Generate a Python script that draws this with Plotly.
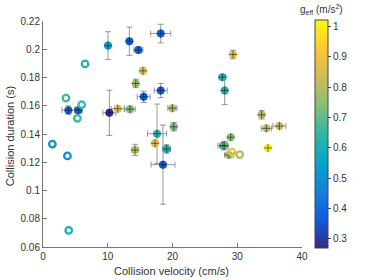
import plotly.graph_objects as go

# ---- data ----
# filled points with error bars
vel = [3.92, 5.46, 10.04, 13.34, 14.73, 18.18, 15.44, 14.32, 15.55, 18.18,
       10.25, 11.54, 13.44, 19.98, 17.61, 20.19, 14.21, 17.30, 19.10, 18.53,
       29.34, 27.70, 28.06, 33.77, 34.50, 36.51, 28.99, 27.80, 28.06, 28.72, 34.75]
dur = [0.1569, 0.1569, 0.2026, 0.2057, 0.1995, 0.2111, 0.1847, 0.1758, 0.1663, 0.1708,
       0.1550, 0.1579, 0.1576, 0.1583, 0.1402, 0.1451, 0.1287, 0.1334, 0.1294, 0.1183,
       0.1963, 0.1802, 0.1708, 0.1536, 0.1440, 0.1456, 0.1377, 0.1317, 0.1317, 0.1252, 0.1301]
vel_err = [1.0, 0.6, 0.3, 0.2, 0.7, 1.55, 0.4, 0.3, 1.0, 1.0,
           1.0, 1.0, 0.8, 0.7, 1.47, 0.3, 0.5, 0.3, 0.6, 1.85,
           0.2, 0.5, 0.2, 0.2, 0.8, 1.0, 0.3, 0.8, 0.3, 0.7, 0.4]
dur_err = [0.003, 0.002, 0.0098, 0.010, 0.002, 0.0066, 0.002, 0.003, 0.004, 0.005,
           0.016, 0.002, 0.002, 0.001, 0.021, 0.003, 0.004, 0.0015, 0.003, 0.028,
           0.003, 0.001, 0.010, 0.003, 0.001, 0.001, 0.001, 0.001, 0.003, 0.001, 0.0008]
geff = [0.37, 0.37, 0.54, 0.37, 0.37, 0.37, 0.87, 0.76, 0.37, 0.37,
        0.28, 0.87, 0.73, 0.80, 0.64, 0.73, 0.80, 0.86, 0.60, 0.37,
        0.88, 0.62, 0.60, 0.80, 0.82, 0.82, 0.74, 0.60, 0.72, 0.76, 1.00]

# open-circle points (no error bars)
vel_open = [3.55, 6.49, 5.98, 5.31, 1.45, 3.77, 3.97, 29.19, 30.38]
dur_open = [0.1654, 0.1896, 0.1607, 0.1511, 0.1329, 0.1245, 0.0717, 0.1271, 0.1254]
geff_open = [0.66, 0.62, 0.66, 0.66, 0.50, 0.50, 0.61, 0.88, 0.80]

cb_ticks = [0.3, 0.4, 0.5, 0.6, 0.7, 0.8, 0.9, 1.0]
x_ticks = [0, 10, 20, 30, 40]
y_ticks = [0.06, 0.08, 0.1, 0.12, 0.14, 0.16, 0.18, 0.2, 0.22]

x_title = "Collision velocity (cm/s)"
y_title = "Collision duration (s)"
cb_title = "g<sub>eff</sub> (m/s<sup>2</sup>)"

parula = [
    [0.0, "#352a87"], [0.125, "#0f5cdd"], [0.25, "#1481d6"], [0.375, "#06a4ca"],
    [0.5, "#2eb7a4"], [0.625, "#87bf77"], [0.75, "#d1bb59"], [0.875, "#fec832"],
    [1.0, "#f9fb0e"],
]

FONT = "Liberation Sans, Arial, sans-serif"
TXT = "#333333"

fig = go.Figure()

fig.add_trace(go.Scatter(
    x=vel, y=dur, mode="markers",
    error_x=dict(type="data", array=vel_err, color="rgba(110,110,110,0.7)", thickness=1, width=3),
    error_y=dict(type="data", array=dur_err, color="rgba(110,110,110,0.7)", thickness=1, width=3),
    marker=dict(size=8, color=geff, coloraxis="coloraxis", opacity=1, line=dict(width=0)),
    showlegend=False, hoverinfo="skip",
))
# thin dark crosshair through the centre of each filled point
fig.add_trace(go.Scatter(
    x=vel, y=dur, mode="markers",
    marker=dict(symbol="cross-thin", size=6, color="rgba(20,20,20,0.7)",
                line=dict(width=0.8, color="rgba(20,20,20,0.7)")),
    showlegend=False, hoverinfo="skip",
))
fig.add_trace(go.Scatter(
    x=vel_open, y=dur_open, mode="markers",
    marker=dict(symbol="circle-open", size=6.5, color=geff_open, coloraxis="coloraxis",
                line=dict(width=2.3)),
    showlegend=False, hoverinfo="skip",
))

axis_common = dict(
    showgrid=False, zeroline=False, showline=True, linecolor="#777777", linewidth=1,
    ticks="inside", ticklen=4, tickcolor="#777777", mirror=False,
    tickfont=dict(family=FONT, size=10, color=TXT),
)

PW, PH = 259.0, 226.6
L, T = 43.3, 20.7

fig.update_layout(
    width=374, height=280,
    margin=dict(l=L, r=374 - L - PW, t=T, b=280 - T - PH, autoexpand=False),
    paper_bgcolor="white", plot_bgcolor="white",
    xaxis=dict(range=[0, 40], tickvals=x_ticks, **axis_common),
    yaxis=dict(range=[0.06, 0.22], tickvals=y_ticks, **axis_common),
    coloraxis=dict(
        colorscale=parula, cmin=0.27, cmax=1.022,
        colorbar=dict(
            x=(315 - L) / PW, xanchor="left", xpad=0, ypad=0,
            y=0.5, yanchor="middle", lenmode="pixels", len=228,
            thickness=13, outlinewidth=1, outlinecolor="#444444",
            tickvals=cb_ticks, ticks="outside", ticklen=3, tickcolor="#444444",
            tickfont=dict(family=FONT, size=10, color=TXT),
        ),
    ),
    annotations=[
        dict(text=cb_title, xref="paper", yref="paper",
             x=(322 - L) / PW, y=(T + PH - 9) / PH, xanchor="center", yanchor="middle",
             showarrow=False, font=dict(family=FONT, size=10, color=TXT)),
        dict(text=x_title, xref="paper", yref="paper",
             x=(171.5 - L) / PW, y=(T + PH - 271.5) / PH, xanchor="center", yanchor="middle",
             showarrow=False, font=dict(family=FONT, size=11, color=TXT)),
        dict(text=y_title, xref="paper", yref="paper", textangle=-90,
             x=(11 - L) / PW, y=(T + PH - 136.5) / PH, xanchor="center", yanchor="middle",
             showarrow=False, font=dict(family=FONT, size=11, color=TXT)),
    ],
)

fig.write_html("out.html", config={"displayModeBar": False},
               post_script="document.body.style.margin='0';")
